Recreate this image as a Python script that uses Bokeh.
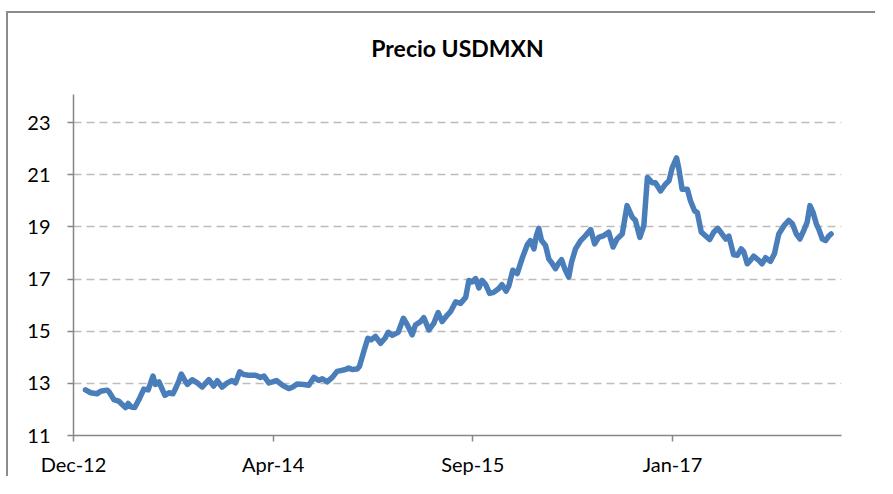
import pandas as pd
from bokeh.plotting import figure
from bokeh.models import FixedTicker, DatetimeTickFormatter, ColumnDataSource, Range1d, Label
from bokeh.embed import file_html
from bokeh.resources import INLINE

# ---- data ----
dates = [
    "2013-01-09", "2013-01-22", "2013-02-07", "2013-02-16", "2013-03-04", "2013-03-08",
    "2013-03-21", "2013-04-02", "2013-04-11", "2013-04-19", "2013-04-26", "2013-05-04",
    "2013-05-12", "2013-05-23", "2013-06-04", "2013-06-15", "2013-06-27", "2013-07-03",
    "2013-07-12", "2013-07-20", "2013-07-27", "2013-08-06", "2013-08-16", "2013-08-22",
    "2013-08-31", "2013-09-06", "2013-09-15", "2013-09-21", "2013-10-03", "2013-10-16",
    "2013-10-28", "2013-11-14", "2013-11-26", "2013-12-05", "2013-12-17", "2013-12-30",
    "2014-01-11", "2014-01-20", "2014-01-30", "2014-02-09", "2014-02-22", "2014-03-11",
    "2014-03-23", "2014-04-01", "2014-04-13", "2014-04-22", "2014-05-02", "2014-05-17",
    "2014-06-02", "2014-06-12", "2014-06-23", "2014-07-10", "2014-07-22", "2014-08-04",
    "2014-08-16", "2014-08-25", "2014-09-06", "2014-09-19", "2014-10-01", "2014-10-10",
    "2014-10-22", "2014-10-30", "2014-11-08", "2014-11-20", "2014-11-26", "2014-12-07",
    "2014-12-17", "2014-12-25", "2015-01-05", "2015-01-18", "2015-01-29", "2015-02-06",
    "2015-02-16", "2015-03-03", "2015-03-16", "2015-03-26", "2015-04-07", "2015-04-15",
    "2015-04-28", "2015-05-06", "2015-05-19", "2015-05-31", "2015-06-11", "2015-06-21",
    "2015-07-04", "2015-07-12", "2015-07-25", "2015-08-06", "2015-08-19", "2015-08-27",
    "2015-09-04", "2015-09-13", "2015-09-21", "2015-09-29", "2015-10-08", "2015-10-18",
    "2015-10-28", "2015-11-10", "2015-11-18", "2015-11-28", "2015-12-05", "2015-12-15",
    "2015-12-26", "2016-01-07", "2016-01-20", "2016-01-28", "2016-02-06", "2016-02-12",
    "2016-02-18", "2016-02-25", "2016-03-06", "2016-03-14", "2016-03-23", "2016-03-31",
    "2016-04-07", "2016-04-15", "2016-04-23", "2016-05-03", "2016-05-10", "2016-05-20",
    "2016-06-02", "2016-06-14", "2016-06-27", "2016-07-07", "2016-07-17", "2016-07-30",
    "2016-08-11", "2016-08-22", "2016-09-01", "2016-09-14", "2016-09-26", "2016-10-09",
    "2016-10-17", "2016-10-28", "2016-11-07", "2016-11-16", "2016-11-28", "2016-12-06",
    "2016-12-19", "2016-12-31", "2017-01-09", "2017-01-17", "2017-01-28", "2017-02-03",
    "2017-02-11", "2017-02-24", "2017-03-04", "2017-03-14", "2017-03-21", "2017-03-31",
    "2017-04-10", "2017-04-21", "2017-05-01", "2017-05-11", "2017-05-22", "2017-05-31",
    "2017-06-08", "2017-06-20", "2017-06-29", "2017-07-09", "2017-07-15", "2017-07-24",
    "2017-08-01", "2017-08-09", "2017-08-22", "2017-08-30", "2017-09-08", "2017-09-20",
    "2017-09-30", "2017-10-11", "2017-10-24", "2017-11-05", "2017-11-14", "2017-11-24",
    "2017-12-03", "2017-12-14", "2017-12-21", "2017-12-28", "2018-01-05", "2018-01-13",
    "2018-01-19", "2018-01-28", "2018-02-05", "2018-02-13", "2018-02-19",
]
values = [
    12.75, 12.64, 12.60, 12.70, 12.74, 12.70,
    12.38, 12.32, 12.19, 12.07, 12.23, 12.09,
    12.07, 12.38, 12.78, 12.75, 13.28, 12.96,
    13.06, 12.78, 12.54, 12.64, 12.60, 12.78,
    13.10, 13.36, 13.11, 12.96, 13.14, 13.02,
    12.86, 13.14, 12.90, 13.10, 12.86, 13.02,
    13.11, 13.02, 13.44, 13.34, 13.31, 13.31,
    13.23, 13.28, 13.02, 13.06, 13.11, 12.93,
    12.80, 12.86, 12.98, 12.96, 12.93, 13.23,
    13.11, 13.18, 13.06, 13.23, 13.46, 13.49,
    13.53, 13.59, 13.53, 13.55, 13.65, 14.23,
    14.73, 14.67, 14.80, 14.54, 14.73, 14.96,
    14.84, 14.96, 15.50, 15.24, 14.86, 15.24,
    15.37, 15.52, 15.05, 15.30, 15.72, 15.37,
    15.62, 15.75, 16.13, 16.07, 16.30, 16.95,
    16.89, 17.02, 16.66, 16.95, 16.79, 16.45,
    16.49, 16.64, 16.79, 16.54, 16.74, 17.34,
    17.21, 17.78, 18.31, 18.48, 18.16, 18.67,
    18.95, 18.48, 18.29, 17.78, 17.59, 17.40,
    17.59, 17.75, 17.40, 17.08, 17.65, 18.16,
    18.48, 18.67, 18.90, 18.35, 18.60, 18.67,
    18.80, 18.23, 18.54, 18.73, 19.82, 19.38,
    19.25, 18.60, 19.05, 20.90, 20.70, 20.70,
    20.38, 20.64, 20.77, 21.27, 21.65, 21.21,
    20.45, 20.45, 20.00, 19.62, 19.55, 18.80,
    18.67, 18.52, 18.80, 18.95, 18.73, 18.54,
    18.65, 17.93, 17.91, 18.16, 18.06, 17.59,
    17.72, 17.88, 17.72, 17.59, 17.82, 17.68,
    17.97, 18.73, 19.05, 19.25, 19.12, 18.73,
    18.54, 18.92, 19.18, 19.82, 19.55, 19.12,
    18.92, 18.54, 18.48, 18.65, 18.73,
]
tick_dates = ["2012-12-10", "2014-04-24", "2015-09-06", "2017-01-18"]
x_start, x_end = "2012-12-10", "2018-03-17"
y_ticks = [11, 13, 15, 17, 19, 21, 23]
y_axis_top = 24.07          # where the value axis line ends
title_text = "Precio USDMXN"

FONT = "Lato"
AXIS_COLOR = "#868686"
PX_PER_UNIT = 26.25          # vertical scale of the value axis
FRAME_H = 423                # frame also holds the title band above the axis

y_start = 11
y_end = y_start + FRAME_H / PX_PER_UNIT
title_y = y_axis_top + 47 / PX_PER_UNIT

src = ColumnDataSource(dict(date=pd.to_datetime(dates), value=values))

p = figure(
    width=869, height=465,
    x_axis_type="datetime",
    x_range=Range1d(pd.Timestamp(x_start), pd.Timestamp(x_end)),
    y_range=Range1d(y_start, y_end),
    output_backend="svg", toolbar_location=None,
    min_border_left=65, min_border_right=36, min_border_top=2, min_border_bottom=40,
)
p.styles = {"border-left": "2px solid #8c8c8c", "border-top": "2px solid #8c8c8c",
            "margin-top": "11px", "margin-left": "6px"}

p.line("date", "value", source=src, line_color="#4a7ebb", line_width=5.5,
       line_join="round", line_cap="round")

x0, x1 = pd.Timestamp(x_start), pd.Timestamp(x_end)
title = Label(x=x0 + (x1 - x0) / 2, y=title_y, text=title_text,
              text_align="center", text_baseline="middle",
              text_font=FONT, text_font_size="23px", text_font_style="bold",
              text_color="#000000")
p.add_layout(title)

p.outline_line_color = None
p.background_fill_color = "white"
p.border_fill_color = "white"

# x axis
p.xaxis.ticker = FixedTicker(ticks=[pd.Timestamp(d).value / 1e6 for d in tick_dates])
fmt = "%b-%y"
p.xaxis.formatter = DatetimeTickFormatter(
    milliseconds=fmt, seconds=fmt, minsec=fmt, minutes=fmt, hourmin=fmt, hours=fmt,
    days=fmt, months=fmt, years=fmt)
p.xaxis.minor_tick_line_color = None
p.xaxis.major_tick_in = 0
p.xaxis.major_tick_out = 6
p.xaxis.major_label_standoff = 10

# y axis
p.yaxis.ticker = FixedTicker(ticks=y_ticks)
p.yaxis.bounds = (y_start, y_axis_top)
p.yaxis.minor_tick_line_color = None
p.yaxis.major_tick_in = 0
p.yaxis.major_tick_out = 6
p.yaxis.major_label_standoff = 17

for ax in (p.xaxis, p.yaxis):
    ax.axis_line_color = AXIS_COLOR
    ax.axis_line_width = 1.5
    ax.major_tick_line_color = AXIS_COLOR
    ax.major_tick_line_width = 1.5
    ax.major_label_text_font = FONT
    ax.major_label_text_font_size = "20px"
    ax.major_label_text_color = "#000000"

p.xgrid.grid_line_color = None
p.ygrid.grid_line_color = "#bdbdbd"
p.ygrid.grid_line_width = 1.5
p.ygrid.grid_line_dash = "8 5"

open("out.html", "w").write(file_html(p, INLINE))
